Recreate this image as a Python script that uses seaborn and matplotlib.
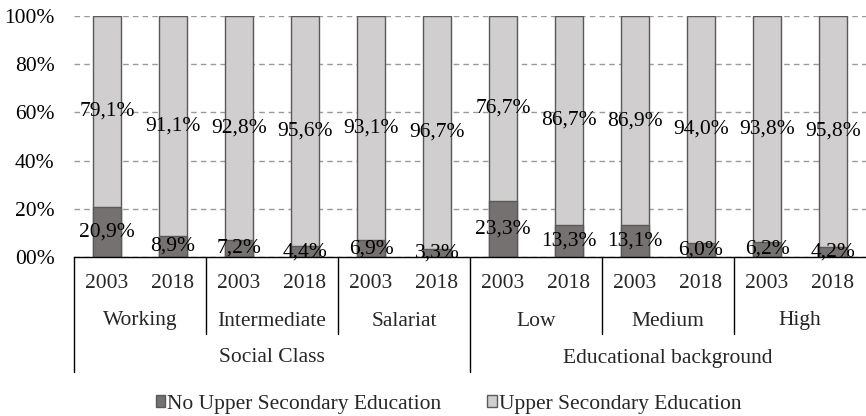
import matplotlib
matplotlib.use("Agg")
import matplotlib.pyplot as plt
import matplotlib.transforms as mtransforms
from matplotlib.patches import Patch
from matplotlib.lines import Line2D
import seaborn as sns
import pandas as pd

# ---- data ----
supergroups = ["Social Class", "Educational background"]
groups = ["Working", "Intermediate", "Salariat", "Low", "Medium", "High"]
years = ["2003", "2018"]
no_upper = [20.9, 8.9, 7.2, 4.4, 6.9, 3.3, 23.3, 13.3, 13.1, 6.0, 6.2, 4.2]
upper = [79.1, 91.1, 92.8, 95.6, 93.1, 96.7, 76.7, 86.7, 86.9, 94.0, 93.8, 95.8]
series_names = ["No Upper Secondary Education", "Upper Secondary Education"]
ytick_vals = [0, 20, 40, 60, 80, 100]
ytick_labels = ["00%", "20%", "40%", "60%", "80%", "100%"]

sns.set_theme(style="white")
plt.rcParams["font.family"] = ["Liberation Serif", "DejaVu Serif"]

dark = "#767171"
light = "#D0CECE"
edge = "#595959"
FS = 15.5

cats = [f"{g} {y}" for g in groups for y in years]
df = pd.DataFrame({"cat": cats,
                   "no": no_upper,
                   "up": upper})
df["total"] = df["no"] + df["up"]

fig = plt.figure(figsize=(8.66, 4.16), dpi=100)
ax = fig.add_axes([74 / 866, 1 - 257 / 416, 1 - 74 / 866, (257 - 16) / 416])

sns.barplot(data=df, x="cat", y="total", color=light, saturation=1, width=0.41,
            edgecolor=edge, linewidth=1, ax=ax, zorder=2)
sns.barplot(data=df, x="cat", y="no", color=dark, saturation=1, width=0.41,
            edgecolor=edge, linewidth=1, ax=ax, zorder=3)

ax.set_xlim(-0.5, len(cats) - 0.5)
ax.set_ylim(0, 100)
ax.set_yticks(ytick_vals)
ax.set_yticklabels(ytick_labels, fontsize=FS, color="#000000")
ax.tick_params(axis="y", length=0, pad=14)
ax.set_xticks([])
ax.set_xlabel("")
ax.set_ylabel("")
ax.set_axisbelow(True)
ax.yaxis.grid(True, color="#9A9A9A", linestyle=(0, (4, 3)), linewidth=1)
for s in ["left", "right", "top"]:
    ax.spines[s].set_visible(False)
ax.spines["bottom"].set_color("black")
ax.spines["bottom"].set_linewidth(1)
ax.spines["bottom"].set_zorder(5)

def fmt(v):
    return f"{v:.1f}".replace(".", ",") + "%"

for i, (n, u) in enumerate(zip(no_upper, upper)):
    ax.text(i, n / 2, fmt(n), ha="center", va="center", fontsize=FS, color="black", zorder=6)
    ax.text(i, n + u / 2, fmt(u), ha="center", va="center", fontsize=FS, color="black", zorder=6)

# multi-level category axis
tr = mtransforms.blended_transform_factory(ax.transData, fig.transFigure)
def fy(px):
    return 1 - px / 416

for i, c in enumerate(cats):
    ax.text(i, fy(283), years[i % 2], transform=tr, ha="center", va="center", fontsize=FS)
for j, g in enumerate(groups):
    ax.text(2 * j + 0.5, fy(321), g, transform=tr, ha="center", va="center", fontsize=FS)
for k, sg in enumerate(supergroups):
    ax.text(6 * k + 2.5, fy(358), sg, transform=tr, ha="center", va="center", fontsize=FS)

for xsep in [-0.5, 5.5]:
    ax.add_line(Line2D([xsep, xsep], [fy(257), fy(372)], transform=tr, color="black",
                       linewidth=1, clip_on=False))
for xsep in [1.5, 3.5, 7.5, 9.5]:
    ax.add_line(Line2D([xsep, xsep], [fy(257), fy(334)], transform=tr, color="black",
                       linewidth=1, clip_on=False))

handles = [Patch(facecolor=dark, edgecolor=edge, linewidth=1),
           Patch(facecolor=light, edgecolor=edge, linewidth=1)]
fig.legend(handles, series_names, loc="center", bbox_to_anchor=(0.518, fy(404)),
           ncol=2, frameon=False, fontsize=FS, handlelength=0.45, handleheight=0.45,
           handletextpad=0.1, columnspacing=2.13)

fig.savefig("out.png", dpi=100)
